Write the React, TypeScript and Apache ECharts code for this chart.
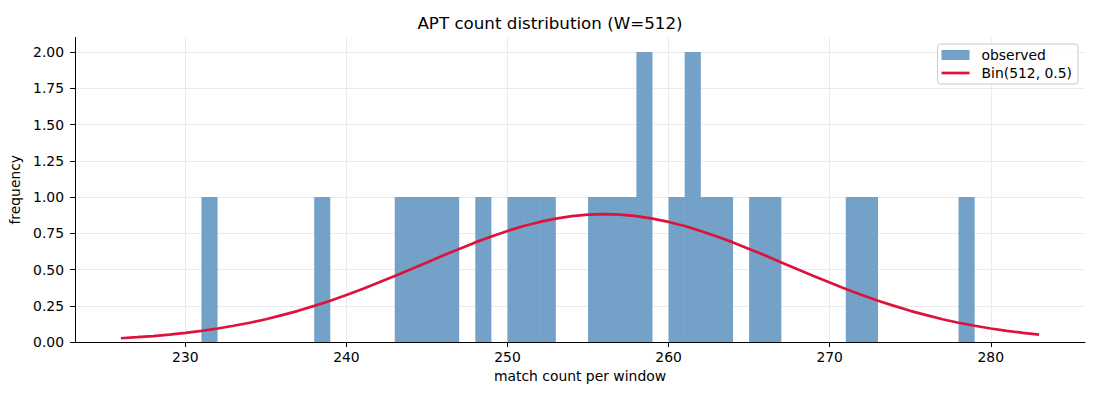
import React, { useEffect, useRef } from "react";
import * as echarts from "echarts";

const TITLE = "APT count distribution (W=512)";
const X_NAME = "match count per window";
const Y_NAME = "frequency";
const OBS_NAME = "observed";
const CURVE_NAME = "Bin(512, 0.5)";

// observed histogram: bin start (bin width 1) and count
const binStarts = [231, 238, 243, 244, 245, 246, 248, 250, 251, 252, 255, 256, 257, 258, 260, 261, 262, 263, 265, 266, 271, 272, 278];
const binCounts = [1, 1, 1, 1, 1, 1, 1, 1, 1, 1, 1, 1, 1, 2, 1, 2, 1, 1, 1, 1, 1, 1, 1];
const binWidth = 1;

// expected curve, x from 226 to 283
const curveX = [226, 227, 228, 229, 230, 231, 232, 233, 234, 235, 236, 237, 238, 239, 240, 241, 242, 243, 244, 245, 246, 247, 248, 249, 250, 251, 252, 253, 254, 255, 256, 257, 258, 259, 260, 261, 262, 263, 264, 265, 266, 267, 268, 269, 270, 271, 272, 273, 274, 275, 276, 277, 278, 279, 280, 281, 282, 283];
const curveY = [0.026, 0.033, 0.041, 0.051, 0.063, 0.077, 0.093, 0.112, 0.133, 0.157, 0.185, 0.215, 0.249, 0.285, 0.324, 0.366, 0.410, 0.456, 0.502, 0.549, 0.597, 0.642, 0.687, 0.728, 0.766, 0.800, 0.828, 0.851, 0.868, 0.878, 0.882, 0.878, 0.868, 0.851, 0.828, 0.800, 0.766, 0.728, 0.687, 0.642, 0.597, 0.549, 0.502, 0.456, 0.410, 0.366, 0.324, 0.285, 0.249, 0.215, 0.185, 0.157, 0.133, 0.112, 0.093, 0.077, 0.063, 0.051];

const X_MIN = 223.15;
const X_MAX = 285.85;
const Y_MIN = 0;
const Y_MAX = 2.1;
const Y_INTERVAL = 0.25;

const FONT = "DejaVu Sans";
const BAR_COLOR = "#74a1c7";
const LINE_COLOR = "#dc143c";
const GRID_COLOR = "#e6e6e6";

const W = 1100;
const H = 400;

export default function App() {
  const ref = useRef<HTMLDivElement>(null);
  useEffect(() => {
    document.body.style.margin = "0";
    const chart = echarts.init(ref.current!, null, { renderer: "svg" });
    const barData = binStarts.map((s, i) => [s, s + binWidth, binCounts[i]]);
    const lineData = curveX.map((x, i) => [x, curveY[i]]);
    chart.setOption({
      animation: false,
      backgroundColor: "#ffffff",
      textStyle: { fontFamily: FONT },
      title: {
        text: TITLE,
        left: "center",
        top: 14,
        padding: 0,
        textStyle: { fontFamily: FONT, fontSize: 16.7, fontWeight: "normal", color: "#000" },
      },
      grid: { left: 75, right: 15, top: 37.5, bottom: 58, containLabel: false },
      legend: {
        orient: "vertical",
        right: 22,
        top: 44,
        z: 200,
        padding: [4, 6, 4, 4],
        itemGap: 4,
        itemWidth: 28,
        itemHeight: 10,
        symbolKeepAspect: true,
        backgroundColor: "rgba(255,255,255,0.8)",
        borderColor: "#cccccc",
        borderWidth: 1,
        borderRadius: 3,
        textStyle: { fontFamily: FONT, fontSize: 13.9, color: "#000", padding: [0, 0, 0, 7] },
        data: [
          { name: OBS_NAME, icon: "rect" },
          { name: CURVE_NAME, icon: "path://M0,0 L28,0 L28,2.7 L0,2.7 Z" },
        ],
      },
      xAxis: {
        type: "value",
        min: X_MIN,
        max: X_MAX,
        splitNumber: 6,
        name: X_NAME,
        nameLocation: "middle",
        nameGap: 27,
        nameTextStyle: { fontFamily: FONT, fontSize: 13.9, color: "#000" },
        axisLine: { show: true, onZero: false, lineStyle: { color: "#000", width: 1 } },
        axisTick: { show: true, length: 5, lineStyle: { color: "#000", width: 1 } },
        axisLabel: {
          showMinLabel: false,
          showMaxLabel: false,
          fontFamily: FONT,
          fontSize: 13.9,
          color: "#000",
          margin: 8,
        },
        splitLine: {
          show: true,
          showMinLine: false,
          showMaxLine: false,
          lineStyle: { color: GRID_COLOR, width: 0.8 },
        },
      },
      yAxis: {
        type: "value",
        min: Y_MIN,
        max: Y_MAX,
        interval: Y_INTERVAL,
        name: Y_NAME,
        nameLocation: "middle",
        nameGap: 49,
        nameRotate: 90,
        nameTextStyle: { fontFamily: FONT, fontSize: 13.9, color: "#000" },
        axisLine: { show: true, lineStyle: { color: "#000", width: 1 } },
        axisTick: { show: true, length: 5, lineStyle: { color: "#000", width: 1 } },
        axisLabel: {
          showMaxLabel: false,
          fontFamily: FONT,
          fontSize: 13.9,
          color: "#000",
          margin: 11,
          formatter: (v: number) => v.toFixed(2),
        },
        splitLine: {
          show: true,
          showMinLine: false,
          showMaxLine: false,
          lineStyle: { color: GRID_COLOR, width: 0.8 },
        },
      },
      series: [
        {
          name: OBS_NAME,
          type: "custom",
          data: barData,
          itemStyle: { color: BAR_COLOR },
          encode: { x: [0, 1], y: 2 },
          renderItem: (params: any, api: any) => {
            const idx = params.dataIndex;
            const x0 = api.value(0);
            const x1 = api.value(1);
            const h = api.value(2);
            const p0 = api.coord([x0, 0]);
            const p1 = api.coord([x1, h]);
            const children: any[] = [
              {
                type: "rect",
                shape: { x: p0[0], y: p1[1], width: p1[0] - p0[0], height: p0[1] - p1[1] },
                style: { fill: BAR_COLOR },
              },
            ];
            // close the anti-aliasing seam to an adjacent following bin
            const next = barData[idx + 1];
            if (next && next[0] === x1) {
              const hMin = Math.min(h, next[2]);
              const pt = api.coord([x1, hMin]);
              children.push({
                type: "rect",
                shape: { x: p1[0] - 0.5, y: pt[1], width: 1.5, height: p0[1] - pt[1] },
                style: { fill: BAR_COLOR },
              });
            }
            return { type: "group", children };
          },
          z: 2,
        },
        {
          name: CURVE_NAME,
          type: "line",
          data: lineData,
          smooth: false,
          symbol: "none",
          showSymbol: false,
          lineStyle: { color: LINE_COLOR, width: 2.7 },
          itemStyle: { color: LINE_COLOR },
          z: 3,
        },
      ],
    });
    return () => chart.dispose();
  }, []);
  return <div ref={ref} style={{ width: W, height: H }} />;
}
